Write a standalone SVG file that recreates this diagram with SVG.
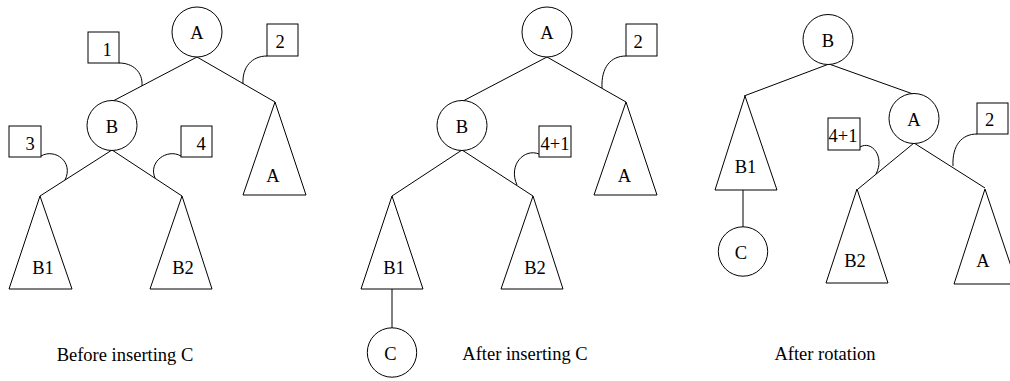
<svg xmlns="http://www.w3.org/2000/svg" width="1010" height="381" viewBox="0 0 1010 381">
<style>
.s{fill:none;stroke:#000;stroke-width:1}
.n{fill:#fff;stroke:#000;stroke-width:1}
text{font-family:"Liberation Serif","Times New Roman","DejaVu Serif",serif;font-size:18.5px;fill:#000;text-anchor:middle}
</style>
<rect width="1010" height="381" fill="#fff"/>
<g id="connectors" class="s">
<line x1="197" y1="57" x2="113" y2="101"/>
<line x1="197" y1="57" x2="275" y2="102"/>
<line x1="112" y1="150" x2="40" y2="196"/>
<line x1="112" y1="150" x2="182" y2="196"/>
<path d="M119,63 C133,63 143,72 142,86"/>
<path d="M267,56 C252,56 242,67 243,84"/>
<path d="M41,156 C55,148 74,162 65,180"/>
<path d="M181,156 C167,148 148,162 155,178"/>
<line x1="547" y1="57" x2="463" y2="101"/>
<line x1="547" y1="57" x2="626" y2="102"/>
<line x1="462" y1="150" x2="392" y2="196"/>
<line x1="462" y1="150" x2="533" y2="196"/>
<line x1="392" y1="289" x2="392" y2="328"/>
<path d="M626,56 C611,56 601,67 602,88"/>
<path d="M539,154 C524,148 508,165 517,185"/>
<line x1="829" y1="64" x2="744" y2="96"/>
<line x1="829" y1="64" x2="913" y2="94"/>
<line x1="914" y1="143" x2="858" y2="189"/>
<line x1="914" y1="143" x2="985" y2="188"/>
<line x1="743" y1="190" x2="743" y2="227"/>
<path d="M860,147 C872,140 885,157 876,174"/>
<path d="M977,134 C962,134 952,145 953,166"/>
</g>
<g id="p1-A"><circle class="n" cx="197" cy="32" r="25"/><text x="197" y="39">A</text></g>
<g id="p1-B"><circle class="n" cx="112" cy="125.5" r="25"/><text x="112" y="133">B</text></g>
<g id="p1-Atree"><polygon class="n" points="275,102 243,195 306,195"/><text x="273" y="182">A</text></g>
<g id="p1-B1"><polygon class="n" points="40,196 9,289 72,289"/><text x="43" y="274">B1</text></g>
<g id="p1-B2"><polygon class="n" points="182,196 150,289 212,289"/><text x="183" y="274">B2</text></g>
<g id="p1-box1"><rect class="n" x="88" y="32" width="31" height="31"/><text x="107" y="56">1</text></g>
<g id="p1-box2"><rect class="n" x="267" y="24" width="31" height="32"/><text x="280" y="48">2</text></g>
<g id="p1-box3"><rect class="n" x="9" y="126" width="32" height="31"/><text x="30" y="150">3</text></g>
<g id="p1-box4"><rect class="n" x="181" y="126" width="31" height="31"/><text x="201" y="150">4</text></g>
<g id="p1-caption"><text x="125" y="361">Before inserting C</text></g>
<g id="p2-A"><circle class="n" cx="547" cy="32" r="25"/><text x="547" y="39">A</text></g>
<g id="p2-B"><circle class="n" cx="462" cy="125.5" r="25"/><text x="462" y="133">B</text></g>
<g id="p2-Atree"><polygon class="n" points="626,102 594,195 657,195"/><text x="624.5" y="182">A</text></g>
<g id="p2-B1"><polygon class="n" points="392,196 361,289 423,289"/><text x="394" y="274">B1</text></g>
<g id="p2-B2"><polygon class="n" points="533,196 501,289 563,289"/><text x="535" y="274">B2</text></g>
<g id="p2-C"><circle class="n" cx="392" cy="352.5" r="24.7"/><text x="390.5" y="360">C</text></g>
<g id="p2-box2"><rect class="n" x="626" y="24" width="31" height="32"/><text x="638" y="48">2</text></g>
<g id="p2-box41"><rect class="n" x="539" y="126" width="32" height="31"/><text x="555" y="150">4+1</text></g>
<g id="p2-caption"><text x="525" y="360">After inserting C</text></g>
<g id="p3-B"><circle class="n" cx="828" cy="39.5" r="25"/><text x="828" y="47">B</text></g>
<g id="p3-A"><circle class="n" cx="914" cy="118.5" r="25"/><text x="914" y="126">A</text></g>
<g id="p3-B1"><polygon class="n" points="745,96 715,190 777,190"/><text x="745.5" y="173">B1</text></g>
<g id="p3-C"><circle class="n" cx="743" cy="251.5" r="24.7"/><text x="741" y="259">C</text></g>
<g id="p3-B2"><polygon class="n" points="857,189 826,283 888,283"/><text x="855" y="267">B2</text></g>
<g id="p3-Atree"><polygon class="n" points="985,189 954,284 1017,284"/><text x="983" y="267">A</text></g>
<g id="p3-box41"><rect class="n" x="828" y="118" width="32" height="32"/><text x="843" y="142">4+1</text></g>
<g id="p3-box2"><rect class="n" x="977" y="103" width="31" height="31"/><text x="989.5" y="126">2</text></g>
<g id="p3-caption"><text x="825" y="360">After rotation</text></g>
</svg>
